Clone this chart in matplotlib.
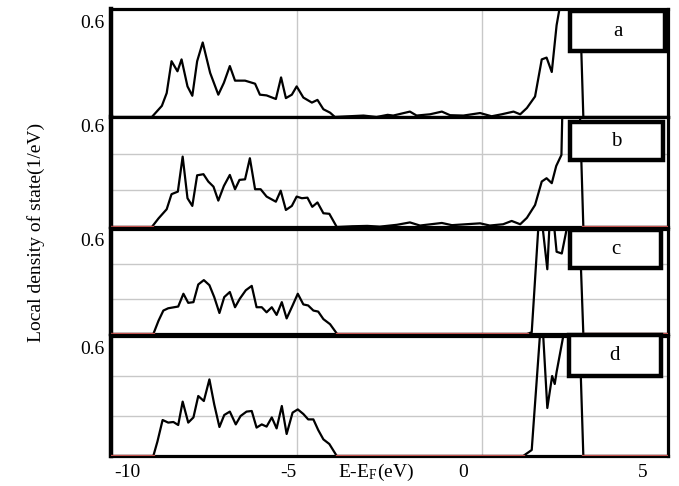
import numpy as np
import matplotlib
matplotlib.use("Agg")
import matplotlib.pyplot as plt
from matplotlib.patches import Rectangle

# local DOS, one array pair per panel
E_A = [-10, -8.90, -8.63, -8.50, -8.37, -8.21, -8.10, -7.94, -7.81, -7.68, -7.53, -7.33, -7.11, -6.96,
       -6.80, -6.66, -6.39, -6.12, -5.99, -5.81, -5.56, -5.42, -5.29, -5.13, -5.00, -4.82, -4.59, -4.44,
       -4.28, -4.10, -3.97, -3.6, -3.2, -2.85, -2.55, -2.40, -1.95, -1.77, -1.41, -1.09, -0.87, -0.51,
       -0.06, 0.25, 0.52, 0.84, 1.02, 1.20, 1.42, 1.60, 1.73, 1.87, 2.00, 2.12, 2.35, 2.72, 5.0]
DOS_A = [0, 0, 0.062, 0.133, 0.31, 0.254, 0.32, 0.17, 0.118, 0.31, 0.414, 0.245, 0.124, 0.19,
         0.283, 0.202, 0.202, 0.185, 0.124, 0.12, 0.10, 0.22, 0.105, 0.124, 0.17, 0.108, 0.080, 0.095,
         0.043, 0.024, 0, 0.004, 0.008, 0, 0.012, 0.008, 0.03, 0.008, 0.015, 0.03, 0.01, 0.008,
         0.022, 0.004, 0.015, 0.03, 0.015, 0.05, 0.114, 0.32, 0.33, 0.25, 0.51, 0.65, 2.5, 0, 0]

E_B = [-10, -8.90, -8.72, -8.50, -8.37, -8.20, -8.07, -7.94, -7.81, -7.68, -7.51, -7.38, -7.24, -7.11,
       -6.96, -6.80, -6.66, -6.54, -6.39, -6.26, -6.12, -5.97, -5.81, -5.56, -5.43, -5.29, -5.13, -5.00,
       -4.86, -4.71, -4.58, -4.44, -4.28, -4.12, -3.92, -3.5, -3.1, -2.76, -2.30, -1.95, -1.68, -1.09,
       -0.82, -0.06, 0.20, 0.56, 0.79, 1.02, 1.20, 1.42, 1.60, 1.73, 1.87, 1.99, 2.13, 2.35, 2.72, 5.0]
DOS_B = [0, 0, 0.047, 0.097, 0.179, 0.193, 0.384, 0.157, 0.115, 0.282, 0.288, 0.248, 0.22, 0.144,
         0.224, 0.284, 0.206, 0.257, 0.26, 0.375, 0.206, 0.206, 0.166, 0.138, 0.198, 0.093, 0.115, 0.166,
         0.157, 0.16, 0.11, 0.134, 0.075, 0.072, 0, 0.004, 0.006, 0.002, 0.012, 0.025, 0.008, 0.022,
         0.01, 0.02, 0.008, 0.015, 0.033, 0.015, 0.05, 0.12, 0.248, 0.266, 0.239, 0.333, 0.393, 2.5, 0, 0]

E_C = [-10, -8.86, -8.72, -8.59, -8.46, -8.19, -8.05, -7.92, -7.78, -7.65, -7.50, -7.35, -7.22, -7.08,
       -6.95, -6.80, -6.66, -6.53, -6.37, -6.21, -6.08, -5.94, -5.81, -5.67, -5.54, -5.40, -5.27, -5.11,
       -4.97, -4.82, -4.69, -4.55, -4.42, -4.28, -4.10, -3.91, 1.20, 1.33, 1.55, 1.75, 1.85, 2.00,
       2.14, 2.45, 2.55, 2.72, 5.0]
DOS_C = [0, 0, 0.076, 0.134, 0.147, 0.157, 0.23, 0.178, 0.182, 0.283, 0.308, 0.279, 0.211, 0.12,
         0.211, 0.24, 0.153, 0.202, 0.25, 0.275, 0.153, 0.153, 0.124, 0.153, 0.109, 0.182, 0.089, 0.163,
         0.23, 0.169, 0.163, 0.134, 0.128, 0.085, 0.056, 0, 0, 0.01, 0.75, 0.37, 0.8, 0.47,
         0.46, 0.79, 1.0, 0, 0]

E_D = [-10, -8.86, -8.75, -8.61, -8.46, -8.32, -8.19, -8.07, -7.92, -7.78, -7.65, -7.50, -7.35, -7.22,
       -7.08, -6.95, -6.80, -6.64, -6.51, -6.35, -6.21, -6.08, -5.94, -5.81, -5.67, -5.54, -5.40, -5.27,
       -5.11, -4.97, -4.82, -4.69, -4.55, -4.42, -4.28, -4.12, -3.92, 1.10, 1.33, 1.60, 1.75, 1.88,
       1.95, 2.00, 2.40, 2.55, 2.72, 5.0]
DOS_D = [0, 0, 0.072, 0.18, 0.167, 0.17, 0.155, 0.272, 0.167, 0.193, 0.30, 0.275, 0.383, 0.258,
         0.145, 0.205, 0.222, 0.158, 0.20, 0.222, 0.225, 0.142, 0.158, 0.147, 0.193, 0.138, 0.25, 0.11,
         0.217, 0.233, 0.21, 0.183, 0.183, 0.13, 0.083, 0.06, 0, 0, 0.03, 0.73, 0.24, 0.40,
         0.36, 0.42, 0.82, 1.0, 0, 0]

PANEL_LABELS = ["a", "b", "c", "d"]
X_TICK_LABELS = ["-10", "-5", "0", "5"]
Y_TICK_LABEL = "0.6"

W, H = 679, 486
SERIF = ["Liberation Serif", "DejaVu Serif"]

plt.rcParams["font.family"] = SERIF
plt.rcParams["mathtext.fontset"] = "stix"

fig = plt.figure(figsize=(W / 100, H / 100), dpi=100)


def fx(px):
    return px / W


def fy(py):
    return 1 - py / H


# panel frames in pixels: (top, bottom)
frames = [(9, 117), (117, 227), (229, 334), (336, 456)]
boxes = [(568, 9, 667, 53), (568, 120, 665, 162), (568, 228, 663, 270), (567, 333, 663, 378)]
label_y = [23, 127, 241, 349]
series = [(E_A, DOS_A, False), (E_B, DOS_B, True), (E_C, DOS_C, True), (E_D, DOS_D, True)]

for i, ((top, bot), (e, dos, has_red)) in enumerate(zip(frames, series)):
    ax = fig.add_axes([fx(111), fy(bot), fx(668) - fx(111), fy(top) - fy(bot)])
    ax.set_xlim(-10, 5)
    ax.set_ylim(0, 0.6)
    ax.set_xticks([-5, 0])
    ax.set_yticks([0.2, 0.4] if i > 0 else [])
    ax.grid(True, color="#c8c8c8", lw=1.0)
    ax.set_axisbelow(True)
    ax.tick_params(length=0, labelbottom=False, labelleft=False)
    for side, sp in ax.spines.items():
        sp.set_linewidth(3.2 if side == "left" else 2.3)
        sp.set_zorder(1.5)

    e = np.array(e)
    dos = np.array(dos)
    ax.plot(e, dos, color="black", lw=1.6, zorder=3)
    if has_red:
        red = np.where(dos == 0, 0.0, np.nan)
        ax.plot(e, red, color="#c0504d", lw=2.4, zorder=4)

    # panel letter box
    x0, y0, x1, y1 = boxes[i]
    fig.add_artist(Rectangle((fx(x0 + 2), fy(y1 - 2)), fx(x1 - x0 - 4), fy(y0 + 2) - fy(y1 - 2),
                             transform=fig.transFigure, facecolor="white", edgecolor="black",
                             lw=3.2, zorder=10))
    fig.text(fx((x0 + x1) / 2), fy((y0 + y1) / 2), PANEL_LABELS[i], ha="center", va="center",
             fontsize=15, zorder=11)

    fig.text(fx(104), fy(label_y[i]), Y_TICK_LABEL, ha="right", va="center", fontsize=14)

for lab, px in zip(X_TICK_LABELS, [127, 288, 463, 643]):
    fig.text(fx(px), fy(472), lab, ha="center", va="center", fontsize=14)

fig.text(fx(376), fy(472), r"E-E$_\mathregular{F}$(eV)", ha="center", va="center", fontsize=14)
fig.text(fx(36), fy(232), "Local density of state(1/eV)", rotation=90, ha="center", va="center",
         fontsize=14)

fig.savefig("out.png", dpi=100)
